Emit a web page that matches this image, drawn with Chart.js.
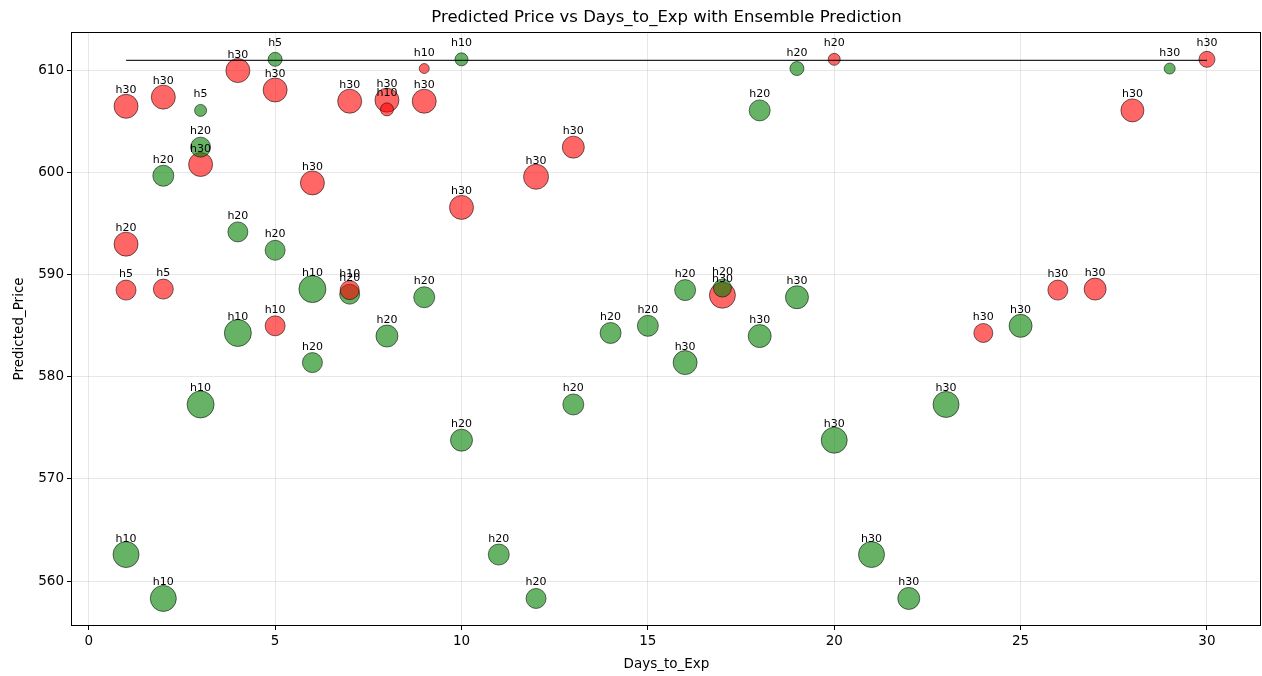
<!DOCTYPE html>
<html>
<head>
<meta charset="utf-8">
<script src="https://cdn.jsdelivr.net/npm/chart.js@4/dist/chart.umd.min.js"></script>
<style>
  html, body { margin: 0; padding: 0; background: #fff; overflow: hidden; }
  canvas { display: block; }
</style>
</head>
<body>
<canvas id="chart" width="1262" height="676"></canvas>
<script>
// values
const xTicks = [0, 5, 10, 15, 20, 25, 30];
const yTicks = [560, 570, 580, 590, 600, 610];

// one group per horizon; up = 1 is green, 0 is red; size is marker radius in px
const h30Days  = [1, 2, 3, 4, 5, 6, 7, 8, 9, 10, 12, 13, 16, 17, 18, 19, 20, 21, 22, 23, 24, 25, 26, 27, 28, 29, 30];
const h30Price = [606.5, 607.4, 600.8, 610.0, 608.1, 599.0, 607.0, 607.1, 607.0, 596.6, 599.6, 602.5, 581.4, 588.0, 584.0, 587.8, 573.8, 562.6, 558.3, 577.3, 584.3, 585.0, 588.5, 588.6, 606.1, 610.2, 611.1];
const h30Up    = [0, 0, 0, 0, 0, 0, 0, 0, 0, 0, 0, 0, 1, 0, 1, 1, 1, 1, 1, 1, 0, 1, 0, 0, 0, 1, 0];
const h30Size  = [12, 12, 12, 12, 12, 12, 12, 12, 12, 12, 12.5, 11, 12, 13, 11.5, 11.5, 13, 13, 11, 13, 9.5, 11.5, 10, 11, 11.5, 5.5, 8];

const h20Days  = [1, 2, 3, 4, 5, 6, 7, 8, 9, 10, 11, 12, 13, 14, 15, 16, 17, 18, 19, 20];
const h20Price = [593.0, 599.7, 602.5, 594.2, 592.4, 581.4, 588.1, 584.0, 587.8, 573.8, 562.6, 558.3, 577.3, 584.3, 585.0, 588.5, 588.7, 606.1, 610.2, 611.1];
const h20Up    = [0, 1, 1, 1, 1, 1, 1, 1, 1, 1, 1, 1, 1, 1, 1, 1, 1, 1, 1, 0];
const h20Size  = [12, 10.5, 10, 10, 10, 10, 10, 11, 10.5, 11, 10.5, 10, 10.5, 10.5, 10.5, 10.5, 9, 10.5, 7, 6];

const h10Days  = [1, 2, 3, 4, 5, 6, 7, 8, 9, 10];
const h10Price = [562.6, 558.3, 577.3, 584.3, 585.0, 588.6, 588.5, 606.2, 610.2, 611.1];
const h10Up    = [1, 1, 1, 1, 0, 1, 0, 0, 0, 1];
const h10Size  = [13, 13, 13.5, 13.5, 10, 13.5, 9.5, 6.5, 5, 6.5];

const h5Days  = [1, 2, 3, 5];
const h5Price = [588.5, 588.6, 606.1, 611.1];
const h5Up    = [0, 0, 1, 1];
const h5Size  = [10, 10, 6, 7];

const ensembleDays = [1, 30];
const ensembleVals = [611.0, 611.0];

const RED = 'rgba(255, 0, 0, 0.6)';
const GREEN = 'rgba(0, 128, 0, 0.6)';
const EDGE = 'rgba(0, 0, 0, 0.55)';
const FONT = "'DejaVu Sans', sans-serif";
const PLOT_RIGHT = 1261;

function pts(xs, ys) {
  return xs.map((x, i) => ({ x: x, y: ys[i] }));
}

function horizon(name, days, price, up, size, order) {
  return {
    label: name,
    horizon: true,
    data: pts(days, price),
    showLine: false,
    order: order,
    pointRadius: size,
    pointHoverRadius: size,
    pointBackgroundColor: up.map(u => u ? GREEN : RED),
    pointBorderColor: EDGE,
    pointBorderWidth: 1
  };
}

// chart.js keeps a few px on the right for the last tick label; take them back
const stretchRight = {
  id: 'stretchRight',
  afterLayout(chart) {
    const a = chart.chartArea;
    a.right = PLOT_RIGHT;
    a.width = a.right - a.left;
    const x = chart.scales.x;
    x.right = PLOT_RIGHT;
    x.width = x.right - x.left;
    x.configure();
    if (chart.titleBlock) {
      chart.titleBlock.left = a.left;
      chart.titleBlock.right = a.right;
      chart.titleBlock.width = a.width;
    }
  }
};

// text "hNN" above each marker, plus the frame around the plot
const annotate = {
  id: 'annotate',
  afterDatasetsDraw(chart) {
    const ctx = chart.ctx;
    ctx.save();
    ctx.font = "11px " + FONT;
    ctx.fillStyle = '#000';
    ctx.textAlign = 'center';
    ctx.textBaseline = 'alphabetic';
    chart.data.datasets.forEach((ds, i) => {
      if (!ds.horizon) return;
      chart.getDatasetMeta(i).data.forEach(el => {
        ctx.fillText(ds.label, el.x, el.y - 13);
      });
    });
    const a = chart.chartArea;
    ctx.strokeStyle = '#000';
    ctx.lineWidth = 1;
    ctx.strokeRect(Math.round(a.left) - 0.5, Math.round(a.top) - 0.5,
                   Math.round(a.right - a.left), Math.round(a.bottom - a.top) + 1);
    ctx.restore();
  }
};

const datasets = [
  {
    label: 'Ensemble',
    data: pts(ensembleDays, ensembleVals),
    showLine: true,
    order: 0,
    borderColor: 'rgba(0,0,0,0.85)',
    borderWidth: 1.2,
    pointRadius: 0
  },
  horizon('h5', h5Days, h5Price, h5Up, h5Size, 1),
  horizon('h10', h10Days, h10Price, h10Up, h10Size, 2),
  horizon('h20', h20Days, h20Price, h20Up, h20Size, 3),
  horizon('h30', h30Days, h30Price, h30Up, h30Size, 4)
];

new Chart(document.getElementById('chart'), {
  type: 'scatter',
  data: { datasets },
  plugins: [stretchRight, annotate],
  options: {
    responsive: false,
    devicePixelRatio: 1,
    animation: false,
    events: [],
    layout: { padding: { top: 0, right: 1, left: 0, bottom: 0 } },
    plugins: {
      legend: { display: false },
      tooltip: { enabled: false },
      title: {
        display: true,
        fullSize: false,
        text: 'Predicted Price vs Days_to_Exp with Ensemble Prediction',
        color: '#000',
        font: { family: FONT, size: 16.5, weight: 'normal', lineHeight: 1.2 },
        padding: { top: 8, bottom: 5 }
      }
    },
    scales: {
      x: {
        type: 'linear',
        min: -0.45,
        max: 31.45,
        afterBuildTicks: (s) => { s.ticks = xTicks.map(v => ({ value: v })); },
        afterFit: (s) => { s.height = 51; },
        grid: { color: 'rgba(176,176,176,0.3)', tickColor: '#000', tickLength: 5, lineWidth: 1 },
        border: { display: false },
        ticks: { color: '#000', padding: 3, font: { family: FONT, size: 13.5 }, maxRotation: 0 },
        title: {
          display: true, text: 'Days_to_Exp', color: '#000',
          font: { family: FONT, size: 13.5 }, padding: { top: 0, bottom: 3 }
        }
      },
      y: {
        type: 'linear',
        min: 555.7,
        max: 613.7,
        afterBuildTicks: (s) => { s.ticks = yTicks.map(v => ({ value: v })); },
        afterFit: (s) => { s.width = 72; },
        grid: { color: 'rgba(176,176,176,0.3)', tickColor: '#000', tickLength: 5, lineWidth: 1 },
        border: { display: false },
        ticks: { color: '#000', padding: 3, font: { family: FONT, size: 13.5 } },
        title: {
          display: true, text: 'Predicted_Price', color: '#000',
          font: { family: FONT, size: 13.5 }, padding: { top: 11, bottom: 0 }
        }
      }
    }
  }
});
</script>
</body>
</html>
